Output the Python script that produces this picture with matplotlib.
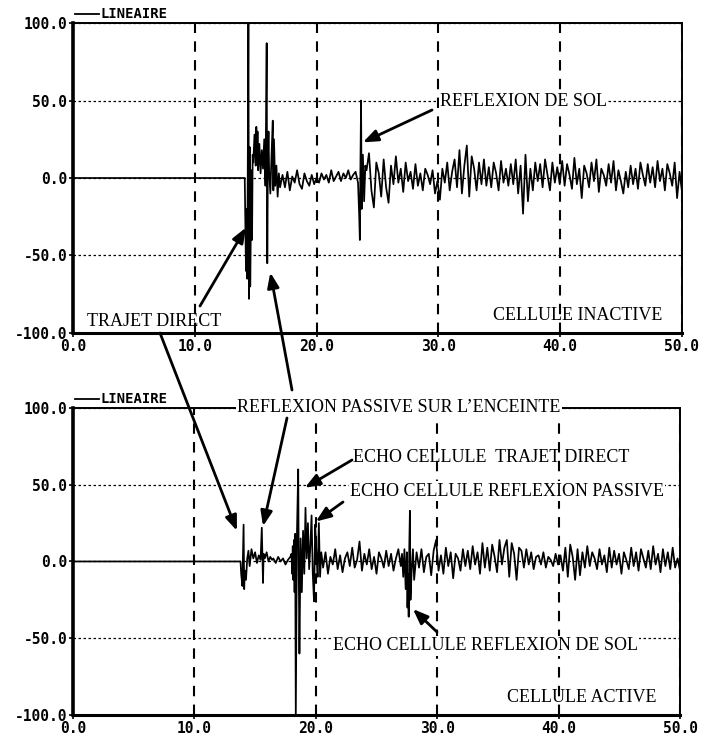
import numpy as np
import matplotlib.pyplot as plt

# ---- data (time in the x units, amplitude in y units) ----
x_ticks = [0, 10, 20, 30, 40, 50]
y_ticks = [-100, -50, 0, 50, 100]

# upper trace : CELLULE INACTIVE
top_flat_t = [0.0, 14.1]
top_flat_v = [0, 0]
top_direct_t = [14.15, 14.2, 14.25, 14.3, 14.35, 14.4, 14.45, 14.5, 14.55, 14.6,
                14.65, 14.7, 14.75, 14.8, 14.9, 15.0, 15.05, 15.1, 15.15, 15.2,
                15.3, 15.4, 15.5, 15.6, 15.7, 15.8, 15.9, 15.95, 16.0, 16.05,
                16.1, 16.2, 16.3, 16.4, 16.45, 16.5, 16.6, 16.7, 16.8, 16.9, 17.0]
top_direct_v = [-30, -60, -20, -65, 10, 104, -78, 20, -70, -30,
                5, -40, 15, 10, 28, 8, 33, 12, 30, 5,
                22, 3, 18, 6, 25, -5, 87, -55, 10, 30,
                5, -10, 15, 37, -8, 25, -5, 8, -12, 3, -6]
top_calm_span = (17.2, 23.4)
top_calm_v = [2, -6, 4, -8, 1, -3, 5, -4, -7, 3, -2, -5, 2, -4, 0, -3,
              3, -1, 2, -3, 5, -2, 1, 4, -2, 3, 0, 5, -1, 2, 4, -3]
top_sol_t = [23.5, 23.55, 23.6, 23.65, 23.7, 23.8, 23.9, 24.0]
top_sol_v = [-25, -40, 10, 50, -20, 15, -15, 8]
top_noise_span = (24.1, 50.0)
top_noise_v = [5, 16, -8, -19, 10, 3, -12, 12, -6, -16,
               8, -4, 14, -3, 6, -9, 10, -2, 4, -7,
               9, -5, 3, -8, 6, 2, -4, 5, -10, -2,
               -14, 6, -3, 10, -8, 4, 12, -6, 18, -10,
               8, 21, -12, 14, 6, -8, 10, -4, 12, -5,
               7, -6, 10, 3, -8, 11, -3, 6, -5, 9,
               -4, 12, -10, 8, -23, 15, -15, 6, -8, 10,
               -2, 9, -6, 12, 2, -8, 10, -3, 7, -4,
               11, -5, 9, 2, -7, 13, -4, 6, -13, 8,
               3, -6, 10, -2, 12, -9, 6, 2, -5, 9,
               -3, 11, -8, 5, -2, -10, 4, -6, 8, -4,
               6, -7, 10, 2, -5, 9, -3, 7, -6, 11,
               -2, 6, -8, 9, 3, -5, 10, -13, 4, -9]

# lower trace : CELLULE ACTIVE
bot_flat_t = [0.0, 13.8]
bot_flat_v = [0, 0]
bot_direct_t = [13.85, 13.95, 14.05, 14.1, 14.15, 14.25, 14.35, 14.45, 14.55, 14.7,
                14.85, 15.0, 15.15, 15.3, 15.45, 15.55, 15.6, 15.65, 15.7, 15.8,
                15.95, 16.1, 16.25, 16.4]
bot_direct_v = [-8, -16, 24, -18, -6, -12, 2, 7, -3, 8,
                2, 6, -1, 4, 1, 22, 3, -14, 5, 2,
                6, 0, 3, 1]
bot_calm_span = (16.5, 17.9)
bot_calm_v = [2, -1, 3, 0, 2, -2, 1, 3]
bot_echo_t = [18.0, 18.05, 18.1, 18.15, 18.2, 18.25, 18.3, 18.35, 18.45, 18.55,
              18.6, 18.65, 18.75, 18.85, 18.95, 19.05, 19.15, 19.25, 19.35, 19.45,
              19.55, 19.65, 19.75, 19.85, 19.95, 20.05, 20.15, 20.25, 20.35, 20.45]
bot_echo_v = [5, -8, 10, -12, 14, -20, 18, -102, 20, 60,
              -10, -60, 15, -20, 20, -8, 35, 2, 25, -5,
              10, 30, -8, -26, 24, 5, -10, 25, -10, 6]
bot_mid_span = (20.6, 27.0)
bot_mid_v = [-4, 6, -8, 3, -2, 8, -5, 4, -7, 2, 6, -3, 9, -4, 1, 13, -6,
             5, -2, 8, -5, 3, -8, 6, 2, -4, 7, -3, 5, -6, 2, 8, -3]
bot_sol_t = [27.1, 27.2, 27.3, 27.4, 27.5, 27.55, 27.6, 27.65, 27.7, 27.75,
             27.8, 27.9, 28.0, 28.1]
bot_sol_v = [5, -10, 8, -18, 6, -30, -8, -36, 10, 33, -25, -5, 8, -12]
bot_noise_span = (28.3, 50.0)
bot_noise_v = [6, -4, 8, -7, 3, 5, -9, 7, 14, -6,
               4, -8, 9, -3, 6, -11, 5, 2, -6, 8,
               -3, 7, -5, 10, -2, 6, -8, 12, -4, 9,
               -6, 11, 3, -7, 14, -2, 9, 14, -10, 12,
               5, -12, 9, 7, -4, 8, -2, 6, -5, 3,
               4, -2, 6, -4, 3, 1, -3, 5, -2, 4,
               -6, 9, -10, 11, 3, -12, 8, -9, 6, -4,
               10, -3, 6, 2, -5, 8, -2, 4, -7, 9,
               -4, 7, -2, 5, -8, 6, 1, -5, 9, -3,
               6, -6, 8, 2, -4, 7, -5, 10, -2, 5,
               -7, 8, -3, 6, -5, 9, -4, 2, -6]


def build(parts):
    t, v = [], []
    for pt, pv in parts:
        if isinstance(pt, tuple):   # evenly sampled stretch
            pt = np.linspace(pt[0], pt[1], len(pv))
        t.extend(pt)
        v.extend(pv)
    return np.array(t), np.array(v)


top_t, top_v = build([(top_flat_t, top_flat_v), (top_direct_t, top_direct_v),
                      (top_calm_span, top_calm_v), (top_sol_t, top_sol_v),
                      (top_noise_span, top_noise_v)])
bot_t, bot_v = build([(bot_flat_t, bot_flat_v), (bot_direct_t, bot_direct_v),
                      (bot_calm_span, bot_calm_v), (bot_echo_t, bot_echo_v),
                      (bot_mid_span, bot_mid_v), (bot_sol_t, bot_sol_v),
                      (bot_noise_span, bot_noise_v)])

SERIF = 'Liberation Serif'
MONO = 'DejaVu Sans Mono'
FS = 13

fig = plt.figure(figsize=(7.11, 7.38), dpi=100)
ax1 = fig.add_axes([0.1027, 0.5488, 0.8565, 0.420])
ax2 = fig.add_axes([0.1027, 0.0312, 0.8537, 0.416])

for ax, t, v in [(ax1, top_t, top_v), (ax2, bot_t, bot_v)]:
    ax.plot(t, v, color='black', lw=1.25, zorder=3)
    ax.set_xlim(0, 50)
    ax.set_ylim(-100, 100)
    ax.set_xticks(x_ticks)
    ax.set_yticks(y_ticks)
    ax.set_xticklabels(['%.1f' % x for x in x_ticks], family=MONO,
                       weight='bold', fontsize=10.5)
    ax.set_yticklabels(['%.1f' % y for y in y_ticks], family=MONO,
                       weight='bold', fontsize=10.5)
    ax.tick_params(direction='out', length=3, width=1.2, pad=1)
    ax.xaxis.grid(True, color='black', lw=1.5, ls=(0, (5, 4)))
    ax.yaxis.grid(True, color='black', lw=0.9, ls=(0, (2, 2)))
    ax.set_axisbelow(True)
    ax.spines['left'].set_linewidth(2.6)
    ax.spines['bottom'].set_linewidth(2.2)
    ax.spines['top'].set_linewidth(1.4)
    ax.spines['right'].set_linewidth(1.4)

# overlay for the labels and arrows that run across both panels
ov = fig.add_axes([0, 0, 1, 1], zorder=10)
ov.set_xlim(0, 711)
ov.set_ylim(738, 0)
ov.axis('off')
ov.patch.set_alpha(0)

white = dict(facecolor='white', edgecolor='none', pad=1.0)
arrow = dict(arrowstyle='-|>,head_length=0.9,head_width=0.35', lw=2.0,
             color='black', shrinkA=0, shrinkB=0)

# legend stubs
for yy in (14, 399):
    ov.plot([75, 99], [yy, yy], color='black', lw=1.3)
    ov.text(100, yy, 'LINEAIRE', family=MONO, weight='bold', fontsize=10,
            va='center', ha='left')

# top panel labels
ov.text(87, 321, 'TRAJET DIRECT', family=SERIF, fontsize=FS, va='center')
ov.text(440, 101, 'REFLEXION DE SOL', family=SERIF, fontsize=FS,
        va='center', bbox=white)
ov.text(493, 315, 'CELLULE INACTIVE', family=SERIF, fontsize=FS, va='center')

# bottom panel labels
ov.text(237, 407, 'REFLEXION PASSIVE SUR L\u2019ENCEINTE', family=SERIF,
        fontsize=FS, va='center', bbox=white)
ov.text(353, 457, 'ECHO CELLULE  TRAJET DIRECT', family=SERIF, fontsize=FS,
        va='center')
ov.text(350, 491, 'ECHO CELLULE REFLEXION PASSIVE', family=SERIF,
        fontsize=FS, va='center', bbox=white)
ov.text(333, 646, 'ECHO CELLULE REFLEXION DE SOL', family=SERIF,
        fontsize=FS, va='center', bbox=white)
ov.text(507, 697, 'CELLULE ACTIVE', family=SERIF, fontsize=FS, va='center')

# arrows: head on the data, tail near the label
arrows = [
    (ax1, (14.2, -32), (200, 306)),   # trajet direct (inactive)
    (ax1, (16.2, -61), (292, 390)),   # reflexion passive (inactive)
    (ax1, (23.8, 23), (432, 110)),    # reflexion de sol
    (ax2, (13.5, 20), (160, 333)),    # trajet direct (active)
    (ax2, (15.65, 23), (287, 418)),   # reflexion passive (active)
    (ax2, (19.1, 48), (352, 460)),    # echo trajet direct
    (ax2, (20.0, 26), (343, 502)),    # echo reflexion passive
    (ax2, (28.0, -31), (437, 632)),   # echo reflexion de sol
]
for ax, head, tail in arrows:
    ov.annotate('', xy=head, xycoords=ax.transData, xytext=tail,
                textcoords='data', arrowprops=arrow, annotation_clip=False)

fig.savefig('out.png', dpi=100)
